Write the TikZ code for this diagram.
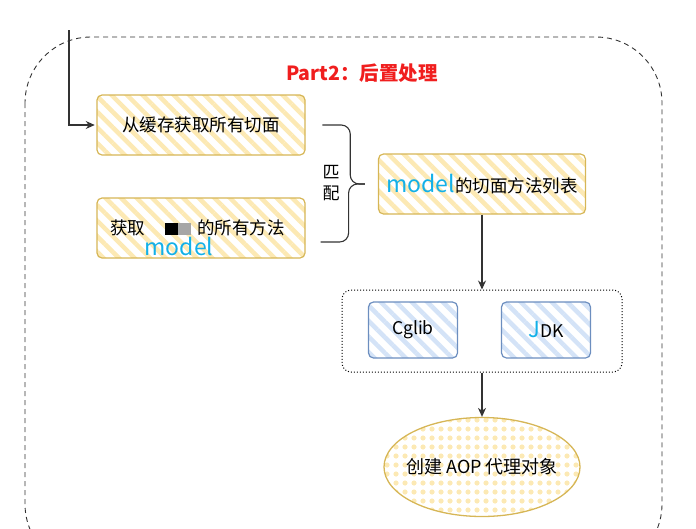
\documentclass[tikz,border=0pt]{standalone}
\usepackage{fontspec}
\setmainfont{Noto Sans CJK SC}
\usepackage{tikz}
\usetikzlibrary{positioning, calc, arrows.meta, patterns.meta, shapes.geometric}
\definecolor{goldline}{HTML}{D6B656}
\definecolor{goldfill}{HTML}{FCE9B4}
\definecolor{blueline}{HTML}{6C8EBF}
\definecolor{bluefill}{HTML}{D4E3F7}
\definecolor{arrowgray}{HTML}{333333}
\definecolor{titlered}{HTML}{F01E1E}
\definecolor{markcyan}{HTML}{12B0E8}

\begin{document}
\begin{tikzpicture}[x=1pt, y=-1pt,
    stepbox/.style={draw=goldline, line width=1.2pt, rounded corners=5pt,
        minimum width=208pt, minimum height=60pt, font=\fontsize{17.5}{20}\selectfont,
        pattern={Lines[angle=-45, distance=11pt, line width=4.5pt]}, pattern color=goldfill},
    proxybox/.style={draw=blueline, line width=1.2pt, rounded corners=5pt,
        minimum width=89pt, minimum height=56pt, font=\fontsize{17.5}{20}\selectfont,
        pattern={Lines[angle=-45, distance=11pt, line width=4.5pt]}, pattern color=bluefill},
    flow/.style={-{Stealth[length=9pt, width=8pt]}, draw=arrowgray, line width=1.1pt},
    bracket/.style={draw=arrowgray, line width=1.1pt, rounded corners=9pt}]
    \useasboundingbox (0,0) rectangle (696,528);
    % outer part frame
    \begin{scope}
        \clip (0,0) rectangle (696,528);
        \draw[rounded corners=66pt, line width=0.9pt, draw=black!80, dash pattern=on 5pt off 4pt]
            (25,37) rectangle (662,570);
    \end{scope}
    \node[text=titlered, font=\fontsize{19.5}{22}\selectfont\bfseries] (title) at (362,73) {Part2：后置处理};

    \node[stepbox] (cache) at (201,125) {从缓存获取所有切面};
    \node[stepbox, text width=196pt, align=left] (methods) at (201,228)
        {\hspace{7pt}获取\hspace{20pt}\textcolor{black}{\rule{13pt}{12pt}}\textcolor{gray!70}{\rule{13pt}{12pt}}\hspace{6pt}的所有方法};
    \node[text=markcyan, font=\fontsize{23}{25}\selectfont] (methodsmark) at (179,246) {model};
    \node[stepbox, minimum width=207pt, inner xsep=0pt] (aspects) at (482,184)
        {\textcolor{markcyan}{\fontsize{23}{25}\selectfont model}的切面方法列表};

    % entry line
    \coordinate (entry) at (69,30);
    \draw[flow] (entry) |- (cache.west);

    % matching bracket
    \coordinate (tip) at ($(aspects.west)+(-13,0)$);
    \draw[bracket] ($(cache.east)+(15,0)$) -- ++(28,0) |- (tip);
    \draw[bracket] ($(methods.east)+(15,14)$) -- ++(28,0) |- (tip);
    \node[font=\fontsize{17}{21}\selectfont, align=center] (match) at (331,183) {匹\\配};

    % proxy choice
    \node[draw, dotted, line width=1pt, rounded corners=9pt,
        minimum width=280pt, minimum height=82pt] (choice) at (482,331) {};
    \node[proxybox] (cglib) at (413,330) {Cglib};
    \node[proxybox] (jdk) at (546,330) {\textcolor{markcyan}{\fontsize{22}{24}\selectfont J}DK};
    \draw[flow] (aspects.south) -- (choice.north);

    \node[ellipse, draw=goldline, line width=1.3pt, minimum width=196pt, minimum height=99pt,
        inner sep=0pt, pattern={Dots[distance=9pt, radius=2.6pt]}, pattern color=goldfill,
        font=\fontsize{18}{21}\selectfont] (proxy) at (482,467) {\makebox[0pt]{创建 AOP 代理对象}};
    \draw[flow] (choice.south) -- (proxy.north);
\end{tikzpicture}
\end{document}
